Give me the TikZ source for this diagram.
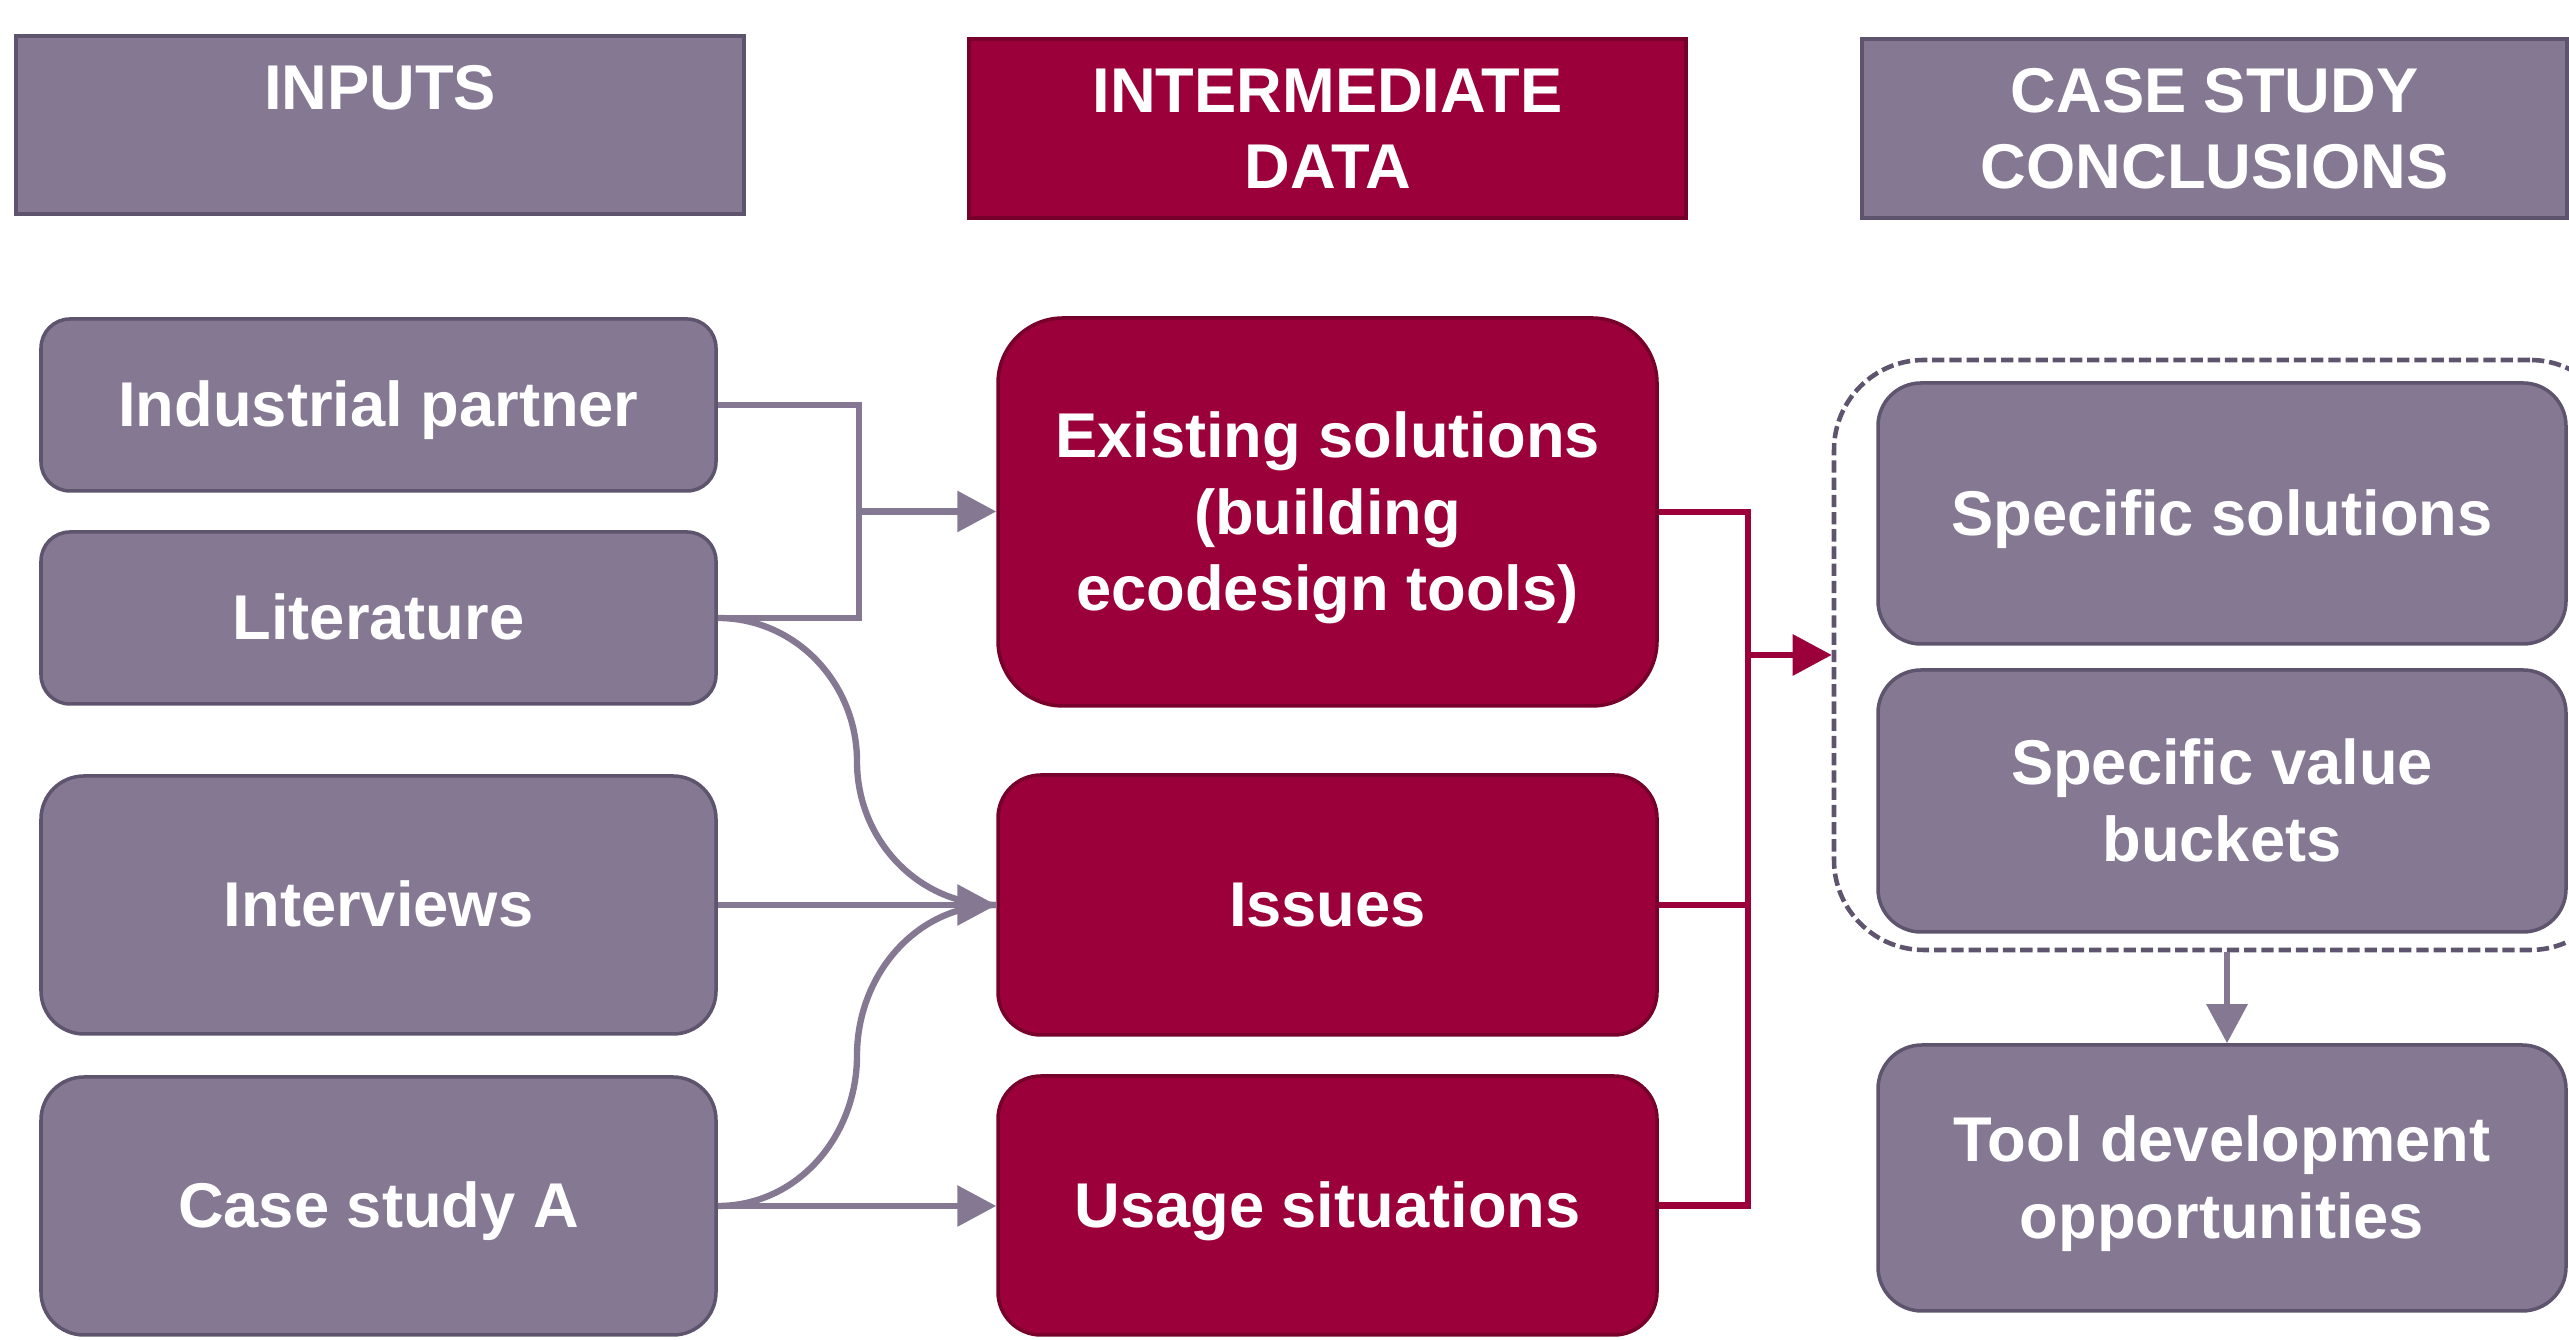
\documentclass[tikz,border=0pt]{standalone}
\usepackage{fontspec}
\setmainfont{Liberation Sans}
\usetikzlibrary{calc,arrows.meta}
\definecolor{mauve}{RGB}{133,120,146}
\definecolor{mauvedark}{RGB}{94,84,110}
\definecolor{claret}{RGB}{155,0,58}
\definecolor{claretdark}{RGB}{118,0,42}
\tikzstyle{boxtext}=[text=white,font=\bfseries\fontsize{18}{21.9}\selectfont,align=center,inner sep=0pt]
\tikzstyle{oneline}=[text height=0.575cm,text depth=0.135cm]
\tikzstyle{twolines}=[text height=1.345cm,text depth=0.135cm]
\tikzstyle{threelines}=[text height=2.115cm,text depth=0.135cm]
\tikzstyle{greybox}=[boxtext,fill=mauve,draw=mauvedark,line width=1pt]
\tikzstyle{redbox}=[boxtext,fill=claret,draw=claretdark,line width=1pt]
\tikzstyle{greyline}=[draw=mauve,line width=1.8pt]
\tikzstyle{redline}=[draw=claret,line width=1.8pt]
\tikzstyle{groupbox}=[draw=mauvedark,line width=1.3pt,dash pattern=on 3.5pt off 1.4pt,rounded corners=0.9cm]

\begin{document}
\begin{tikzpicture}[>={Triangle[length=0.39cm,width=0.40cm]}]

  \clip (0,0) rectangle (25.69,13.40);

  % headers
  \node[greybox,text height=0.575cm,text depth=0.875cm,minimum width=7.28cm,minimum height=1.78cm] (hin) at (3.80,12.15) {INPUTS};
  \node[redbox,twolines,minimum width=7.17cm,minimum height=1.79cm] (hmid) at (13.275,12.115) {INTERMEDIATE\\DATA};
  \node[greybox,twolines,minimum width=7.05cm,minimum height=1.79cm] (hout) at (22.145,12.115) {CASE STUDY\\CONCLUSIONS};

  % inputs
  \node[greybox,oneline,minimum width=6.75cm,minimum height=1.72cm,rounded corners=0.29cm] (ip) at (3.785,9.35) {Industrial partner};
  \node[greybox,oneline,minimum width=6.75cm,minimum height=1.72cm,rounded corners=0.29cm] (lit) at (3.785,7.22) {Literature};
  \node[greybox,oneline,minimum width=6.75cm,minimum height=2.58cm,rounded corners=0.43cm] (int) at (3.785,4.35) {Interviews};
  \node[greybox,oneline,minimum width=6.75cm,minimum height=2.58cm,rounded corners=0.43cm] (csa) at (3.785,1.34) {Case study A};

  % intermediate data
  \node[redbox,threelines,minimum width=6.59cm,minimum height=3.88cm,rounded corners=0.65cm] (es) at (13.275,8.28) {Existing solutions\\(building\\ecodesign tools)};
  \node[redbox,oneline,minimum width=6.59cm,minimum height=2.60cm,rounded corners=0.43cm] (iss) at (13.275,4.35) {Issues};
  \node[redbox,oneline,minimum width=6.59cm,minimum height=2.59cm,rounded corners=0.43cm] (us) at (13.275,1.345) {Usage situations};

  % conclusions
  \node[groupbox,minimum width=7.86cm,minimum height=5.90cm] (grp) at (22.27,6.85) {};
  \node[greybox,oneline,minimum width=6.88cm,minimum height=2.61cm,rounded corners=0.43cm] (ss) at (22.22,8.265) {Specific solutions};
  \node[greybox,twolines,minimum width=6.88cm,minimum height=2.62cm,rounded corners=0.43cm] (svb) at (22.22,5.39) {Specific value\\buckets};
  \node[greybox,twolines,minimum width=6.88cm,minimum height=2.66cm,rounded corners=0.44cm] (tdo) at (22.22,1.62) {Tool development\\opportunities};

  % inputs -> intermediate data
  \coordinate (jin) at ($(ip.east)!.5!(lit.east)+(1.41,0)$);
  \draw[greyline] (ip.east) -| (jin) |- (lit.east);
  \draw[greyline,->] (jin) -- (jin -| es.west);

  \draw[greyline] (lit.east) to[out=0,in=90] ($(lit.east)!.5!(iss.west)$) to[out=-90,in=180] (iss.west);
  \draw[greyline] (csa.east) to[out=0,in=-90] ($(csa.east)!.5!(iss.west)$) to[out=90,in=180] (iss.west);
  \draw[greyline,->] (int.east) -- (iss.west);
  \draw[greyline,->] (csa.east) -- (csa.east -| us.west);

  % intermediate data -> conclusions
  \coordinate (jout) at ($(es.east)+(0.89,0)$);
  \draw[redline] (es.east) -- (jout) |- (us.east);
  \draw[redline] (iss.east) -- (iss.east -| jout);
  \draw[redline,->] (jout |- grp.west) -- (grp.west);

  \draw[greyline,->] (grp.south) -- (grp.south |- tdo.north);

\end{tikzpicture}
\end{document}
